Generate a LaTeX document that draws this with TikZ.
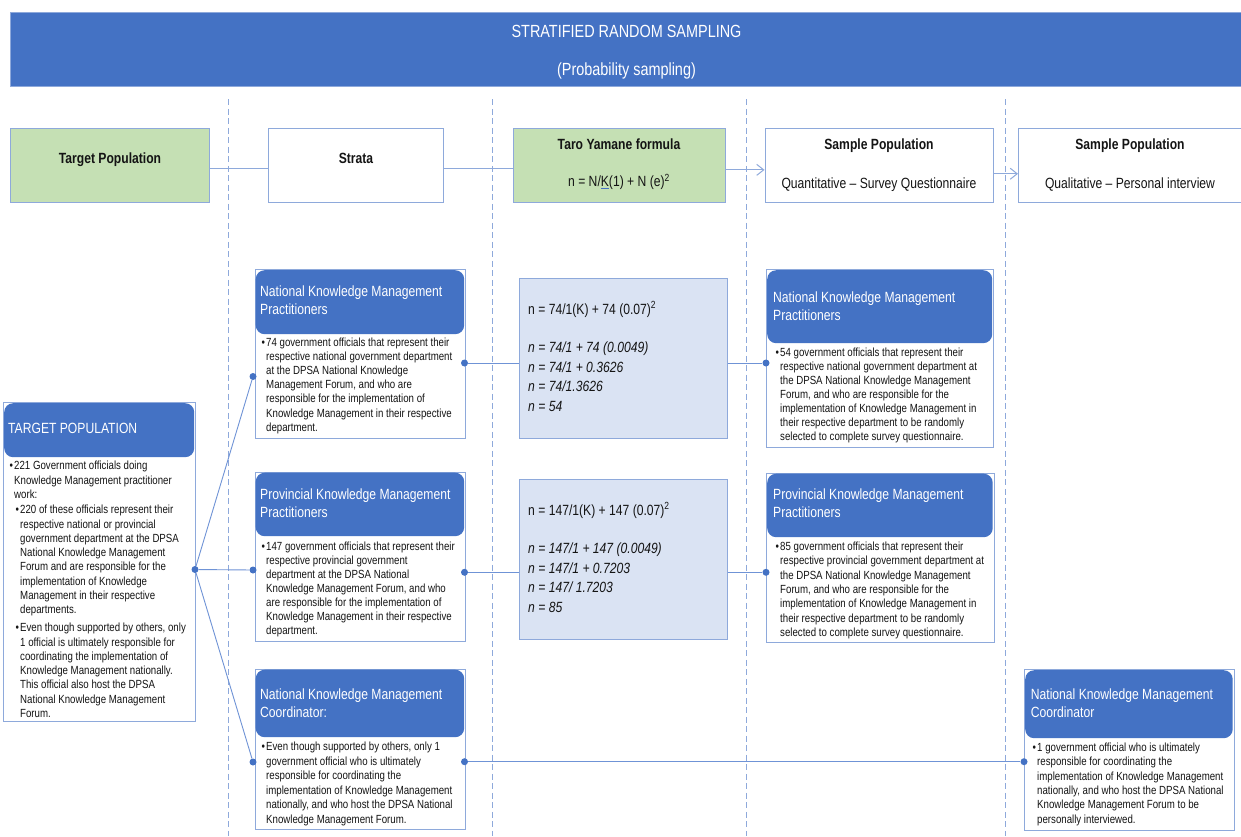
\documentclass[tikz,border=0pt]{standalone}
\usepackage{fontspec}
\setmainfont{Liberation Sans}[FakeStretch=0.82]
\usetikzlibrary{arrows.meta}

\definecolor{kmblue}{HTML}{4472C4}
\definecolor{cardline}{HTML}{8EA9DB}
\definecolor{popgreen}{HTML}{C5E0B4}
\definecolor{calcfill}{HTML}{DAE3F3}
\definecolor{bodytext}{HTML}{141414}
\definecolor{linkblue}{HTML}{6F93D6}

% bullet hanging to the left of a paragraph
\newcommand\kmbul{\llap{•\hspace{1.3pt}}}
% blue underline under a single glyph
\newcommand\kmblueul[1]{\setbox0\hbox{#1}\rlap{\color{kmblue}\rule[-2.6pt]{\wd0}{0.9pt}}\box0}

\tikzset{
  cardbox/.style={draw=cardline, fill=white, line width=0.9pt, inner sep=0pt, anchor=north west},
  cardhead/.style={fill=kmblue, rounded corners=9pt, inner sep=0pt, anchor=north west},
  calcbox/.style={draw=cardline, fill=calcfill, line width=0.9pt, inner sep=0pt, anchor=north west},
  hdrbox/.style={draw=cardline, line width=0.9pt, inner sep=0pt, anchor=north west, minimum height=73.4pt},
  bodytxt/.style={inner sep=0pt, anchor=north west, align=left, text=bodytext,
                  font=\fontsize{11.8pt}{#1}\selectfont},
  bodytxt/.default=14.15pt,
  titletxt/.style={inner sep=0pt, anchor=north west, align=left, text=white,
                   font=\fontsize{14.8pt}{#1}\selectfont},
  titletxt/.default=17.7pt,
  calctxt/.style={inner sep=0pt, anchor=north west, align=left, text=bodytext,
                  font=\fontsize{14.8pt}{19.45pt}\selectfont},
  hlabel/.style={inner sep=0pt, anchor=base, text=bodytext, font=\fontsize{14.8pt}{17.7pt}\selectfont},
  hbold/.style={hlabel, font=\fontsize{14.8pt}{17.7pt}\selectfont\bfseries},
  bannertxt/.style={inner sep=0pt, anchor=base, text=white, font=\fontsize{17.6pt}{20pt}\selectfont},
  dot/.style={circle, fill=kmblue, inner sep=0pt, minimum size=7pt},
  link/.style={draw=linkblue, line width=0.9pt},
  hlink/.style={draw=cardline, line width=1pt},
  harrow/.style={hlink, -{Straight Barb[length=7pt,width=11pt]}},
  divider/.style={draw=cardline, line width=0.8pt, dash pattern=on 6pt off 3.5pt}
}

\begin{document}
\begin{tikzpicture}[x=1pt,y=-1pt]
\useasboundingbox (0,0) rectangle (1241,836);
\fill[white] (0,0) rectangle (1241,836);

% column dividers
\foreach \xd in {228.5,492.7,746.5,1005.5}
  \draw[divider] (\xd,99.3) -- (\xd,836);

% title banner
\node[fill=kmblue, draw=cardline, line width=0.8pt, inner sep=0pt, anchor=north west,
      minimum width=1235pt, minimum height=74pt] (banner) at (10,12) {};
\node[bannertxt] (bannerA) at (626.5,37.3) {STRATIFIED RANDOM SAMPLING};
\node[bannertxt] (bannerB) at (626.5,75.6) {(Probability sampling)};

% header row
\node[hdrbox, fill=popgreen, minimum width=199.5pt] (hTarget) at (9.5,128.3) {};
\node[hdrbox, fill=white, minimum width=174.7pt] (hStrata) at (268.3,128.3) {};
\node[hdrbox, fill=popgreen, minimum width=211.7pt] (hTaro) at (513.3,128.3) {};
\node[hdrbox, fill=white, minimum width=228.5pt] (hQuant) at (764.5,128.3) {};
\node[hdrbox, fill=white, minimum width=230pt] (hQual) at (1018,128.3) {};

\node[hbold] (lTarget) at (110,163) {Target Population};
\node[hbold] (lStrata) at (356,163) {Strata};
\node[hbold] (lTaro) at (619,149.7) {Taro Yamane formula};
\node[hlabel] (lTaroF) at (619,186.7) {n = N/\kmblueul{K}(1) + N (e)\textsuperscript{2}};
\node[hbold] (lQuant) at (879,149.7) {Sample Population};
\node[hlabel] (lQuantB) at (879,188.7) {Quantitative – Survey Questionnaire};
\node[hbold] (lQual) at (1130,149.7) {Sample Population};
\node[hlabel] (lQualB) at (1130,188.7) {Qualitative – Personal interview};

\draw[hlink] ([yshift=-3.3pt]hTarget.east) -- ([yshift=-3.3pt]hStrata.west);
\draw[hlink] ([yshift=-3.3pt]hStrata.east) -- ([yshift=-3.3pt]hTaro.west);
\draw[harrow] ([yshift=-4.4pt]hTaro.east) -- ([yshift=-4.4pt]hQuant.west);
\draw[harrow] ([yshift=-8.3pt]hQuant.east) -- ([yshift=-8.3pt]hQual.west);

% target population card
\node[cardbox, minimum width=192pt, minimum height=319pt] (tp) at (3,402) {};
\node[cardhead, minimum width=190pt, minimum height=54pt] (tpHead) at (4,403) {};
\node[inner sep=0pt, anchor=base west, text=white, font=\fontsize{14.8pt}{17.7pt}\selectfont]
  (tpTitle) at (8,433.3) {TARGET POPULATION};
\node[bodytxt=14.25pt] (tpA) at (14,459.8) {\strut\kmbul 221 Government officials doing\\Knowledge Management practitioner\\work:};
\node[bodytxt=14.25pt] (tpB) at (20,503.8) {\strut\kmbul 220 of these officials represent their\\respective national or provincial\\government department at the DPSA\\National Knowledge Management\\Forum and are responsible for the\\implementation of Knowledge\\Management in their respective\\departments.};
\node[bodytxt=14.25pt] (tpC) at (20,621.8) {\strut\kmbul Even though supported by others, only\\1 official is ultimately responsible for\\coordinating the implementation of\\Knowledge Management nationally.\\This official also host the DPSA\\National Knowledge Management\\Forum.};

% strata cards
\node[cardbox, minimum width=210.5pt, minimum height=169pt] (s1) at (254.5,269) {};
\node[cardhead, minimum width=208.5pt, minimum height=64pt] (s1Head) at (255.5,270) {};
\node[titletxt] (s1Title) at (260,284.3) {\strut National Knowledge Management\\Practitioners};
\node[bodytxt=14.1pt] (s1Body) at (266,336.5) {\strut\kmbul 74 government officials that represent their\\respective national government department\\at the DPSA National Knowledge\\Management Forum, and who are\\responsible for the implementation of\\Knowledge Management in their respective\\department.};

\node[cardbox, minimum width=210.5pt, minimum height=169.5pt] (s2) at (254.5,471.5) {};
\node[cardhead, minimum width=208.5pt, minimum height=63.5pt] (s2Head) at (255.5,472.5) {};
\node[titletxt] (s2Title) at (260,487.3) {\strut Provincial Knowledge Management\\Practitioners};
\node[bodytxt=14.0pt] (s2Body) at (266,540.5) {\strut\kmbul 147 government officials that represent their\\respective provincial government\\department at the DPSA National\\Knowledge Management Forum, and who\\are responsible for the implementation of\\Knowledge Management in their respective\\department.};

\node[cardbox, minimum width=210.5pt, minimum height=160.5pt] (s3) at (254.5,668.5) {};
\node[cardhead, minimum width=208.5pt, minimum height=67.5pt] (s3Head) at (255.5,669.5) {};
\node[titletxt=18pt] (s3Title) at (260,686.6) {\strut National Knowledge Management\\Coordinator:};
\node[bodytxt=14.45pt] (s3Body) at (266,740.5) {\strut\kmbul Even though supported by others, only 1\\government official who is ultimately\\responsible for coordinating the\\implementation of Knowledge Management\\nationally, and who host the DPSA National\\Knowledge Management Forum.};

% Taro Yamane calculations
\node[calcbox, minimum width=208pt, minimum height=160pt] (f1) at (519,278) {};
\node[calctxt] (f1Text) at (528,300.2) {\strut n = 74/1(K) + 74 (0.07)\textsuperscript{2}\\[19.45pt]\textit{n = 74/1 + 74 (0.0049)}\\\textit{n = 74/1 + 0.3626}\\\textit{n = 74/1.3626}\\\textit{n = 54}};
\node[calcbox, minimum width=208pt, minimum height=160pt] (f2) at (519,479) {};
\node[calctxt] (f2Text) at (528,501.2) {\strut n = 147/1(K) + 147 (0.07)\textsuperscript{2}\\[19.45pt]\textit{n = 147/1 + 147 (0.0049)}\\\textit{n = 147/1 + 0.7203}\\\textit{n = 147/ 1.7203}\\\textit{n = 85}};

% quantitative sample cards
\node[cardbox, minimum width=227pt, minimum height=178pt] (p1) at (766,269) {};
\node[cardhead, minimum width=225pt, minimum height=73pt] (p1Head) at (767,270) {};
\node[titletxt=18pt] (p1Title) at (773,289.3) {\strut National Knowledge Management\\Practitioners};
\node[bodytxt=14.07pt] (p1Body) at (780,346.1) {\strut\kmbul 54 government officials that represent their\\respective national government department at\\the DPSA National Knowledge Management\\Forum, and who are responsible for the\\implementation of Knowledge Management in\\their respective department to be randomly\\selected to complete survey questionnaire.};

\node[cardbox, minimum width=227.5pt, minimum height=169pt] (p2) at (766,472.5) {};
\node[cardhead, minimum width=225.5pt, minimum height=63.5pt] (p2Head) at (767,473.5) {};
\node[titletxt] (p2Title) at (773,487.3) {\strut Provincial Knowledge Management\\Practitioners};
\node[bodytxt=14.27pt] (p2Body) at (780,540.5) {\strut\kmbul 85 government officials that represent their\\respective provincial government department at\\the DPSA National Knowledge Management\\Forum, and who are responsible for the\\implementation of Knowledge Management in\\their respective department to be randomly\\selected to complete survey questionnaire.};

% qualitative sample card
\node[cardbox, minimum width=209.5pt, minimum height=161pt] (c1) at (1024,669) {};
\node[cardhead, minimum width=207.5pt, minimum height=68pt] (c1Head) at (1025,670) {};
\node[titletxt] (c1Title) at (1030.7,687.3) {\strut National Knowledge Management\\Coordinator};
\node[bodytxt=14.4pt] (c1Body) at (1037,741.1) {\strut\kmbul 1 government official who is ultimately\\responsible for coordinating the\\implementation of Knowledge Management\\nationally, and who host the DPSA National\\Knowledge Management Forum to be\\personally interviewed.};

% connector end points
\node[dot] (tpR) at (195,569.5) {};
\node[dot] (s1L) at (253,376.5) {};
\node[dot] (s2L) at (253,570) {};
\node[dot] (s3L) at (253,762) {};
\node[dot] (s1R) at (464.5,363) {};
\node[dot] (s2R) at (464.5,572.3) {};
\node[dot] (s3R) at (464.5,761.7) {};
\node[dot] (p1L) at (766,363) {};
\node[dot] (p2L) at (766,572.3) {};
\node[dot] (c1L) at (1024,761.7) {};

% connectors
\draw[link] (tpR) -- (s1L);
\draw[link] (tpR) -- (s2L);
\draw[link] (tpR) -- (s3L);
\draw[link] (s1R) -- (s1R -| f1.west);
\draw[link] (f1.east |- p1L) -- (p1L);
\draw[link] (s2R) -- (s2R -| f2.west);
\draw[link] (f2.east |- p2L) -- (p2L);
\draw[link] (s3R) -- (c1L);
\end{tikzpicture}
\end{document}
